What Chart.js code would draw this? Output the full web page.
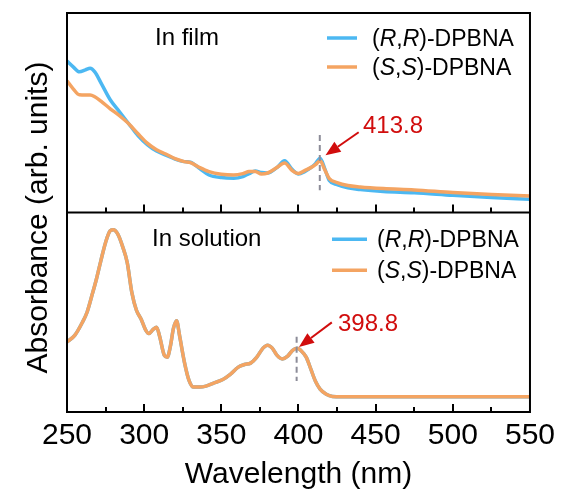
<!DOCTYPE html>
<html>
<head>
<meta charset="utf-8">
<script src="https://cdn.jsdelivr.net/npm/chart.js@4.4.1/dist/chart.umd.min.js"></script>
<style>
html,body{margin:0;padding:0;background:#ffffff;}
#wrap{width:561px;height:495px;}
</style>
</head>
<body>
<div id="wrap"><canvas id="c" width="561" height="495"></canvas></div>
<script>
// ---------- data ----------
const filmWavelength = [250,254,258,262,265,268,272,278,284,290,296,302,308,314,320,326,330,336,342,350,358,364,368,372,376,380,386,391,396,400,404,408,411,414,417,420,425,432,440,455,475,500,525,550];
const filmRR = [75.9,73.0,70.5,71.5,72.3,70.5,65.0,56.5,50.5,44.5,38.5,34.0,30.8,28.8,26.8,25.5,25.2,22.0,18.8,17.5,17.2,18.0,19.5,20.8,20.0,19.8,22.5,25.9,21.5,19.3,20.5,22.5,24.5,27.2,22.0,16.0,14.0,12.4,11.5,10.5,9.9,8.6,7.5,6.6];
const filmSS = [66.0,62.0,59.0,58.9,58.9,58.0,55.8,52.0,48.5,44.5,39.5,34.8,31.5,29.3,27.0,25.5,25.0,22.5,20.5,19.2,18.8,19.5,20.5,20.6,19.3,19.8,22.5,24.8,21.0,19.5,21.0,22.5,24.0,25.9,21.5,17.0,15.0,13.5,12.8,12.0,11.3,10.0,9.0,8.3];

const solutionWavelength = [250,255,260,263,266,269,272,275,278,280,283,286,289,292,295,298,301,303,306,308,310,313,315,317,319,321,323,326,329,332,336,340,345,351,356,361,365,369,373,377,380,383,386,389.5,393,396,399,402,405,408,411,414,418,422,428,450,500,550];
const solutionRR = [35.1,38.4,45.0,50.0,58.0,66.4,76.0,85.0,90.8,91.3,89.0,83.0,75.0,60.0,51.0,46.6,41.0,39.3,41.5,42.5,38.0,28.5,27.5,33.0,42.0,45.8,38.0,25.3,16.0,12.5,12.5,13.0,14.5,16.3,19.0,22.5,23.8,24.5,27.5,32.0,33.5,32.0,28.5,26.6,28.0,30.8,31.9,30.5,27.5,21.5,15.4,11.5,8.9,7.8,7.6,7.7,7.7,7.7];
const solutionSS = [35.1,38.4,45.0,50.0,58.0,66.4,76.0,85.0,90.8,91.3,89.0,83.0,75.0,60.0,51.0,46.6,41.0,39.3,41.5,42.5,38.0,28.5,27.5,33.0,42.0,45.8,38.0,25.3,16.0,12.5,12.5,13.0,14.5,16.3,19.0,22.5,23.8,24.5,27.5,32.0,33.5,32.0,28.5,26.6,28.0,30.8,31.9,30.5,27.5,21.5,15.4,11.5,8.9,7.8,7.6,7.7,7.7,7.7];

const seriesLabels = ['(R,R)-DPBNA', '(S,S)-DPBNA'];
const panelLabels = ['In film', 'In solution'];
const peakValues = [413.8, 398.8];
const xRange = [250, 550];
const xMajorStep = 50;
const xMinorStep = 25;

// ---------- styles ----------
const FONT = "'Liberation Sans', Arial, Helvetica, sans-serif";
const BLUE = '#4cb8f2';
const ORANGE = '#f4a462';
const RED = '#d10d0d';
const GREY = '#8c8c98';

const toPts = (xs, ys) => xs.map((x, i) => ({x: x, y: ys[i]}));

function lineDs(label, xs, ys, color, axis, order) {
  return {
    label: label, data: toPts(xs, ys), yAxisID: axis,
    borderColor: color, backgroundColor: color, borderWidth: 3.5,
    pointRadius: 0, fill: false, tension: 0.4, cubicInterpolationMode: 'monotone',
    order: order
  };
}

const datasets = [
  lineDs(seriesLabels[0], filmWavelength, filmRR, BLUE, 'yFilm', 2),
  lineDs(seriesLabels[1], filmWavelength, filmSS, ORANGE, 'yFilm', 1),
  lineDs(seriesLabels[0], solutionWavelength, solutionRR, BLUE, 'ySol', 2),
  lineDs(seriesLabels[1], solutionWavelength, solutionSS, ORANGE, 'ySol', 1)
];

// draw label with italic letters inside parentheses
function drawRichLabel(ctx, text, x, y, size) {
  let inParen = false;
  let cx = x;
  for (const ch of text) {
    if (ch === '(') inParen = true;
    const italic = inParen && /[A-Za-z]/.test(ch);
    if (ch === ')') inParen = false;
    ctx.font = (italic ? 'italic ' : '') + size + 'px ' + FONT;
    ctx.fillText(ch, cx, y);
    cx += ctx.measureText(ch).width;
  }
}

function arrow(ctx, x1, y1, x2, y2, color) {
  const ang = Math.atan2(y2 - y1, x2 - x1);
  const hl = 15, hw = 6;
  const bx = x2 - hl * Math.cos(ang), by = y2 - hl * Math.sin(ang);
  ctx.strokeStyle = color; ctx.fillStyle = color; ctx.lineWidth = 2;
  ctx.beginPath(); ctx.moveTo(x1, y1); ctx.lineTo(bx, by); ctx.stroke();
  ctx.beginPath();
  ctx.moveTo(x2, y2);
  ctx.lineTo(bx + hw * Math.sin(ang), by - hw * Math.cos(ang));
  ctx.lineTo(bx - hw * Math.sin(ang), by + hw * Math.cos(ang));
  ctx.closePath(); ctx.fill();
}

// annotation definitions, in data units of each panel
const annotations = [
  {axis: 'yFilm', peak: peakValues[0], dash: [38.8, 11.1], tail: [439, 40.2], tip: [417.5, 28.7], text: [363, 132.7]},
  {axis: 'ySol',  peak: peakValues[1], dash: [37.7, 15.5], tail: [421.6, 44.9], tip: [400.3, 32.6], text: [338, 330.7]}
];

const framePlugin = {
  id: 'frame',
  afterDatasetsDraw(chart) {
    const {ctx, chartArea: a, scales} = chart;
    const xs = scales.x;
    const mid = scales.ySol.getPixelForValue(100);
    ctx.save();
    // frame
    ctx.strokeStyle = '#000'; ctx.lineWidth = 2;
    ctx.strokeRect(a.left, a.top, a.right - a.left, a.bottom - a.top);
    ctx.beginPath(); ctx.moveTo(a.left, mid); ctx.lineTo(a.right, mid); ctx.stroke();
    // inward ticks
    for (let v = xRange[0] + xMinorStep; v < xRange[1]; v += xMinorStep) {
      const px = Math.round(xs.getPixelForValue(v));
      const len = (v % xMajorStep === 0) ? 8 : 5;
      ctx.beginPath();
      ctx.moveTo(px, a.bottom); ctx.lineTo(px, a.bottom - len);
      ctx.moveTo(px, mid); ctx.lineTo(px, mid - len);
      ctx.stroke();
    }
    // y-axis title
    ctx.save();
    ctx.translate(46.5, (a.top + a.bottom) / 2 + 5);
    ctx.rotate(-Math.PI / 2);
    ctx.fillStyle = '#000';
    ctx.font = '30px ' + FONT;
    ctx.textAlign = 'center'; ctx.textBaseline = 'alphabetic';
    ctx.fillText('Absorbance (arb. units)', 0, 0);
    ctx.restore();

    // panel labels
    ctx.fillStyle = '#000'; ctx.textAlign = 'left'; ctx.textBaseline = 'alphabetic';
    ctx.font = '24px ' + FONT;
    ctx.fillText(panelLabels[0], 155, 44.5);
    ctx.fillText(panelLabels[1], 152, 246);

    // legends
    const legends = [
      {x0: 327, x1: 357, tx: 372, rows: [46, 75]},
      {x0: 332, x1: 367, tx: 377, rows: [247.3, 278.3]}
    ];
    const colors = [BLUE, ORANGE];
    legends.forEach(lg => {
      lg.rows.forEach((by, i) => {
        ctx.strokeStyle = colors[i]; ctx.lineWidth = 3.5; ctx.lineCap = 'butt';
        ctx.beginPath(); ctx.moveTo(lg.x0, by - 8); ctx.lineTo(lg.x1, by - 8); ctx.stroke();
        ctx.fillStyle = '#000';
        drawRichLabel(ctx, seriesLabels[i], lg.tx, by, 23);
      });
    });

    // annotations
    annotations.forEach(an => {
      const ys = scales[an.axis];
      const px = xs.getPixelForValue(an.peak);
      ctx.strokeStyle = GREY; ctx.lineWidth = 2; ctx.setLineDash([6, 4]);
      ctx.beginPath(); ctx.moveTo(px, ys.getPixelForValue(an.dash[0])); ctx.lineTo(px, ys.getPixelForValue(an.dash[1])); ctx.stroke();
      ctx.setLineDash([]);
      arrow(ctx, xs.getPixelForValue(an.tail[0]), ys.getPixelForValue(an.tail[1]),
                 xs.getPixelForValue(an.tip[0]), ys.getPixelForValue(an.tip[1]), RED);
      ctx.fillStyle = RED; ctx.font = '24px ' + FONT; ctx.textAlign = 'left'; ctx.textBaseline = 'alphabetic';
      ctx.fillText(an.peak.toFixed(1), an.text[0], an.text[1]);
    });
    ctx.restore();
  }
};

new Chart(document.getElementById('c'), {
  type: 'line',
  data: {datasets: datasets},
  options: {
    responsive: false,
    animation: false,
    layout: {padding: {left: 67, right: 29, top: 13, bottom: 5}},
    plugins: {legend: {display: false}, tooltip: {enabled: false}},
    scales: {
      x: {
        type: 'linear', min: xRange[0], max: xRange[1],
        grid: {display: false, drawTicks: false},
        border: {display: false},
        ticks: {stepSize: xMajorStep, padding: 6, color: '#000', font: {family: FONT, size: 30, lineHeight: 1.2}},
        title: {display: true, text: 'Wavelength (nm)', color: '#000', padding: {top: 0, bottom: 0}, font: {family: FONT, size: 30, lineHeight: 1.0}}
      },
      yFilm: {type: 'linear', display: false, min: -100, max: 100},
      ySol: {type: 'linear', display: false, min: 0, max: 200}
    }
  },
  plugins: [framePlugin]
});
</script>
</body>
</html>
